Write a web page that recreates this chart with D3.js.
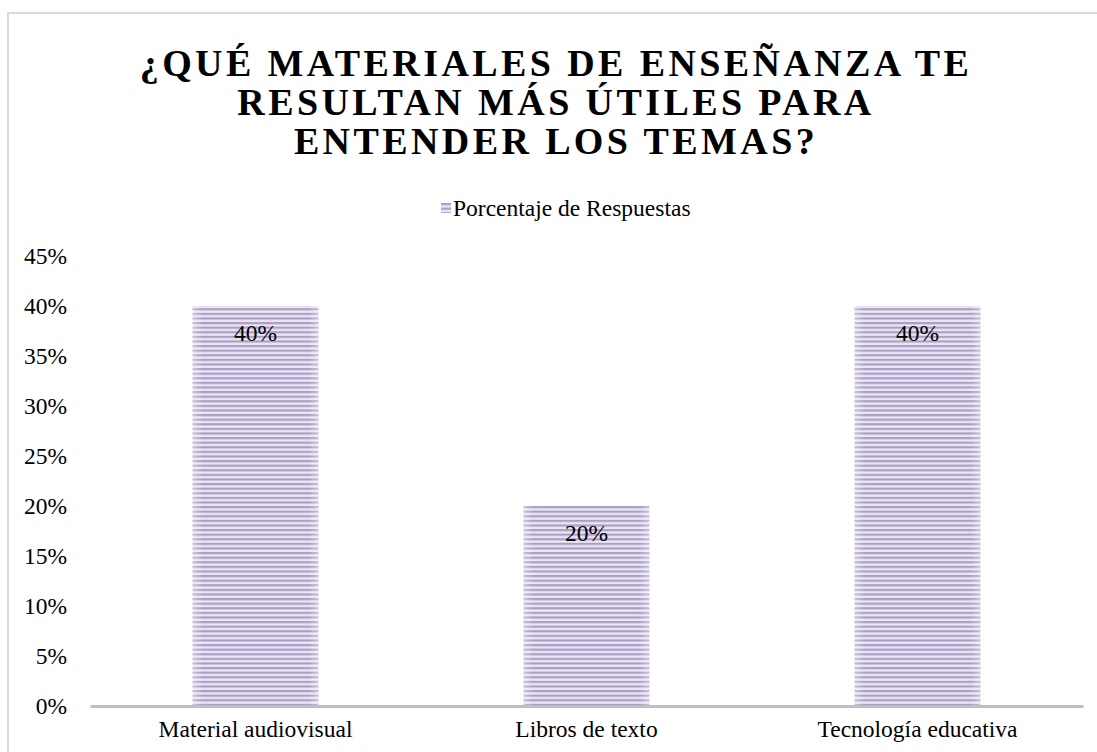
<!DOCTYPE html>
<html lang="es">
<head>
  <meta charset="UTF-8">
  <title>Materiales de enseñanza</title>
  <script src="https://d3js.org/d3.v7.min.js"></script>
  <style>
    body { margin: 0; background: #fff; }
    svg text { font-family: "Liberation Serif", "Times New Roman", serif !important; fill: #000; }
    .title { font-weight: bold; font-size: 38px; letter-spacing: 3.4px; }
    .lbl { font-size: 23.5px; }
  </style>
</head>
<body>
  <svg width="1097" height="752"></svg>
  <script>
    const categories = ["Material audiovisual", "Libros de texto", "Tecnología educativa"];
    const values = [0.40, 0.20, 0.40];
    const seriesName = "Porcentaje de Respuestas";
    const yTicks = [0, 0.05, 0.10, 0.15, 0.20, 0.25, 0.30, 0.35, 0.40, 0.45];
    const titleLines = ["¿QUÉ MATERIALES DE ENSEÑANZA TE", "RESULTAN MÁS ÚTILES PARA", "ENTENDER LOS TEMAS?"];

    const svg = d3.select("svg");
    const pct = d3.format(".0%");

    // chart frame
    svg.append("rect")
      .attr("x", 8).attr("y", 13)
      .attr("width", 1100).attr("height", 760)
      .attr("fill", "#fff")
      .attr("stroke", "#d9d9d9")
      .attr("stroke-width", 2);

    // striped fill
    const defs = svg.append("defs");
    const pat = defs.append("pattern")
      .attr("id", "stripes")
      .attr("patternUnits", "userSpaceOnUse")
      .attr("width", 8).attr("height", 4.6);
    pat.append("rect").attr("width", 8).attr("height", 4.6).attr("fill", "#ebe7f2");
    pat.append("rect").attr("width", 8).attr("height", 2.2).attr("fill", "#ab9dc8");

    const edge = defs.append("linearGradient").attr("id", "edge");
    edge.append("stop").attr("offset", "0%").attr("stop-color", "#fff").attr("stop-opacity", 0.35);
    edge.append("stop").attr("offset", "8%").attr("stop-color", "#fff").attr("stop-opacity", 0);
    edge.append("stop").attr("offset", "92%").attr("stop-color", "#fff").attr("stop-opacity", 0);
    edge.append("stop").attr("offset", "100%").attr("stop-color", "#fff").attr("stop-opacity", 0.35);

    const x = d3.scaleBand()
      .domain(categories)
      .range([90, 1083])
      .paddingInner(0.62)
      .paddingOuter(0.31);

    const y = d3.scaleLinear()
      .domain([0, 0.45])
      .range([706, 256]);

    // title
    svg.append("g").selectAll("text")
      .data(titleLines)
      .join("text")
      .attr("class", "title")
      .attr("x", 556)
      .attr("y", (d, i) => 76 + i * 39)
      .attr("text-anchor", "middle")
      .text(d => d);

    // legend
    const legend = svg.append("g").attr("transform", "translate(441,203)");
    legend.append("rect").attr("width", 10).attr("height", 10).attr("fill", "url(#stripes)");
    legend.append("text")
      .attr("class", "lbl")
      .attr("x", 12).attr("y", 5)
      .attr("dy", "0.35em")
      .text(seriesName);

    // y axis labels
    const yAxis = svg.append("g")
      .attr("transform", "translate(67,0)")
      .call(d3.axisLeft(y).tickValues(yTicks).tickFormat(pct).tickSize(0).tickPadding(0));
    yAxis.select(".domain").remove();
    yAxis.selectAll("text").attr("class", "lbl").attr("font-size", null);

    // bars
    const bars = svg.append("g");
    bars.selectAll("rect.bar")
      .data(values)
      .join("rect")
      .attr("class", "bar")
      .attr("x", (d, i) => x(categories[i]))
      .attr("y", d => y(d))
      .attr("width", x.bandwidth())
      .attr("height", d => y(0) - y(d))
      .attr("fill", "url(#stripes)");
    bars.selectAll("rect.edge")
      .data(values)
      .join("rect")
      .attr("class", "edge")
      .attr("x", (d, i) => x(categories[i]))
      .attr("y", d => y(d))
      .attr("width", x.bandwidth())
      .attr("height", d => y(0) - y(d))
      .attr("fill", "url(#edge)");

    // data labels
    svg.append("g").selectAll("text")
      .data(values)
      .join("text")
      .attr("class", "lbl")
      .attr("x", (d, i) => x(categories[i]) + x.bandwidth() / 2)
      .attr("y", d => y(d) + 27)
      .attr("dy", "0.35em")
      .attr("text-anchor", "middle")
      .text(d => pct(d));

    // x axis
    const xAxis = svg.append("g")
      .attr("transform", `translate(0,${y(0)})`)
      .call(d3.axisBottom(x).tickSize(0).tickPadding(14));
    xAxis.select(".domain").attr("stroke", "#bfbfbf").attr("stroke-width", 3);
    xAxis.selectAll("text").attr("class", "lbl").attr("font-size", null);
  </script>
</body>
</html>
